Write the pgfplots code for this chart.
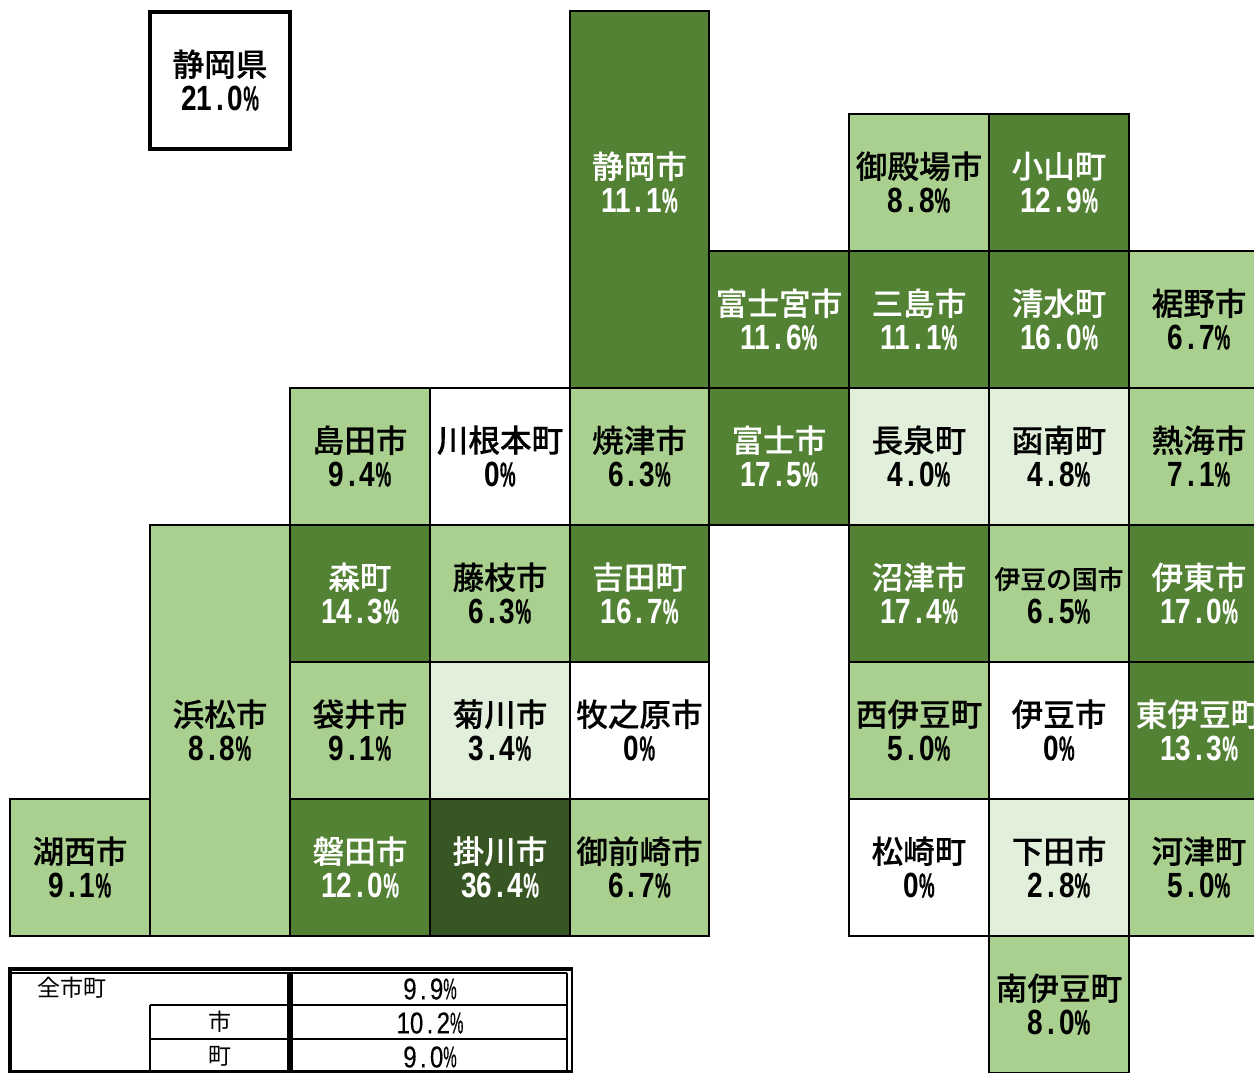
\documentclass[border=0pt]{standalone}
\usepackage{pgfplots}
\pgfplotsset{compat=1.18}
\usepackage{fontspec}
\setmainfont{Noto Sans CJK JP}
\newfontfamily\jp[FakeBold=0.2]{Noto Sans CJK JP Medium}
\newfontfamily\jpr{Noto Sans CJK JP}
\newfontfamily\num[FakeStretch=0.8]{Liberation Sans}
\newfontfamily\pctf[FakeStretch=0.5]{Liberation Sans}
\newfontfamily\numr[FakeStretch=0.8,FakeBold=0.4]{Liberation Sans}
\newfontfamily\pctr[FakeStretch=0.5,FakeBold=0.4]{Liberation Sans}
\newcommand\dt{\makebox[0.445em][c]{.}}
\newcommand\pc{{\pctsel\%}}
\newcommand\pctsel{\pctf}
\definecolor{dk}{HTML}{548235}
\definecolor{lt}{HTML}{A9D08E}
\definecolor{vl}{HTML}{E2EFDA}
\definecolor{xd}{HTML}{375623}
\newcommand\cell[5]{\addplot[fill=#5,draw=black,line width=1pt] coordinates {(#1,#2)(#3,#2)(#3,#4)(#1,#4)} -- cycle;}
\newcommand\lab[5]{%
 \node[text=#5,inner sep=0pt,font=\jp\fontsize{15.8pt}{16pt}\selectfont] at (axis cs:#1,#2-16.3) {#3};
 \node[text=#5,inner sep=0pt,font=\num\bfseries\fontsize{17.5pt}{17pt}\selectfont] at (axis cs:#1,#2+18) {#4};}
\newcommand\seg[5]{\addplot[draw=black,line width=#5] coordinates {(#1,#2)(#3,#4)};}
\begin{document}
\begin{tikzpicture}
\clip (0,0) rectangle (627pt,536pt);
\begin{axis}[at={(0,0)},anchor=south west,width=627pt,height=536pt,scale only axis,hide axis,
 xmin=0,xmax=1254,ymin=0,ymax=1072,y dir=reverse,clip=false]
% cells
\cell{570}{11}{709}{388}{dk}
\cell{849}{114}{989}{251}{lt}
\cell{989}{114}{1129}{251}{dk}
\cell{709}{251}{849}{388}{dk}
\cell{849}{251}{989}{388}{dk}
\cell{989}{251}{1129}{388}{dk}
\cell{1129}{251}{1269}{388}{lt}
\cell{290}{388}{430}{525}{lt}
\cell{430}{388}{570}{525}{white}
\cell{570}{388}{709}{525}{lt}
\cell{709}{388}{849}{525}{dk}
\cell{849}{388}{989}{525}{vl}
\cell{989}{388}{1129}{525}{vl}
\cell{1129}{388}{1269}{525}{lt}
\cell{150}{525}{290}{936}{lt}
\cell{290}{525}{430}{662}{dk}
\cell{430}{525}{570}{662}{lt}
\cell{570}{525}{709}{662}{dk}
\cell{849}{525}{989}{662}{dk}
\cell{989}{525}{1129}{662}{lt}
\cell{1129}{525}{1269}{662}{dk}
\cell{290}{662}{430}{799}{lt}
\cell{430}{662}{570}{799}{vl}
\cell{570}{662}{709}{799}{white}
\cell{849}{662}{989}{799}{lt}
\cell{989}{662}{1129}{799}{white}
\cell{1129}{662}{1269}{799}{dk}
\cell{10}{799}{150}{936}{lt}
\cell{290}{799}{430}{936}{dk}
\cell{430}{799}{570}{936}{xd}
\cell{570}{799}{709}{936}{lt}
\cell{849}{799}{989}{936}{white}
\cell{989}{799}{1129}{936}{vl}
\cell{1129}{799}{1269}{936}{lt}
\cell{989}{936}{1129}{1073}{lt}
\addplot[fill=white,draw=black,line width=2pt] coordinates {(150,12)(290,12)(290,149)(150,149)} -- cycle;
% table
\seg{8}{969}{573}{969}{1.6pt}
\seg{12}{973}{567}{973}{1.4pt}
\seg{10}{968}{10}{1072}{2.2pt}
\seg{567}{973}{567}{1072}{1.2pt}
\seg{572}{968}{572}{1072}{1.1pt}
\seg{290}{973}{290}{1072}{2.6pt}
\seg{150}{1005}{567}{1005}{1.1pt}
\seg{150}{1039}{567}{1039}{1.1pt}
\seg{150}{1005}{150}{1072}{1.1pt}
\seg{8}{1071.5}{573}{1071.5}{1.1pt}
% labels
\lab{220}{80.5}{静岡県}{21\dt 0\pc}{black}
\lab{639.5}{182.5}{静岡市}{11\dt 1\pc}{white}
\lab{919}{182.5}{御殿場市}{8\dt 8\pc}{black}
\lab{1059}{182.5}{小山町}{12\dt 9\pc}{white}
\lab{779}{319.5}{富士宮市}{11\dt 6\pc}{white}
\lab{919}{319.5}{三島市}{11\dt 1\pc}{white}
\lab{1059}{319.5}{清水町}{16\dt 0\pc}{white}
\lab{1199}{319.5}{裾野市}{6\dt 7\pc}{black}
\lab{360}{456.5}{島田市}{9\dt 4\pc}{black}
\lab{500}{456.5}{川根本町}{0\pc}{black}
\lab{639.5}{456.5}{焼津市}{6\dt 3\pc}{black}
\lab{779}{456.5}{富士市}{17\dt 5\pc}{white}
\lab{919}{456.5}{長泉町}{4\dt 0\pc}{black}
\lab{1059}{456.5}{函南町}{4\dt 8\pc}{black}
\lab{1199}{456.5}{熱海市}{7\dt 1\pc}{black}
\lab{360}{593.5}{森町}{14\dt 3\pc}{white}
\lab{500}{593.5}{藤枝市}{6\dt 3\pc}{black}
\lab{639.5}{593.5}{吉田町}{16\dt 7\pc}{white}
\lab{919}{593.5}{沼津市}{17\dt 4\pc}{white}
\node[inner sep=0pt,font=\jp\fontsize{12.9pt}{13pt}\selectfont] at (axis cs:1059,579) {伊豆の国市};
\node[inner sep=0pt,font=\num\bfseries\fontsize{17.5pt}{17pt}\selectfont] at (axis cs:1059,611.5) {6\dt 5\pc};
\lab{1199}{593.5}{伊東市}{17\dt 0\pc}{white}
\lab{220}{730.5}{浜松市}{8\dt 8\pc}{black}
\lab{360}{730.5}{袋井市}{9\dt 1\pc}{black}
\lab{500}{730.5}{菊川市}{3\dt 4\pc}{black}
\lab{639.5}{730.5}{牧之原市}{0\pc}{black}
\lab{919}{730.5}{西伊豆町}{5\dt 0\pc}{black}
\lab{1059}{730.5}{伊豆市}{0\pc}{black}
\lab{1199}{730.5}{東伊豆町}{13\dt 3\pc}{white}
\lab{80}{867.5}{湖西市}{9\dt 1\pc}{black}
\lab{360}{867.5}{磐田市}{12\dt 0\pc}{white}
\lab{500}{867.5}{掛川市}{36\dt 4\pc}{white}
\lab{639.5}{867.5}{御前崎市}{6\dt 7\pc}{black}
\lab{919}{867.5}{松崎町}{0\pc}{black}
\lab{1059}{867.5}{下田市}{2\dt 8\pc}{black}
\lab{1199}{867.5}{河津町}{5\dt 0\pc}{black}
\lab{1059}{1004.5}{南伊豆町}{8\dt 0\pc}{black}
% table text
\node[inner sep=0pt,font=\jpr\fontsize{11.5pt}{12pt}\selectfont] at (axis cs:72,988) {全市町};
\node[inner sep=0pt,font=\jpr\fontsize{11.5pt}{12pt}\selectfont] at (axis cs:220,1022) {市};
\node[inner sep=0pt,font=\jpr\fontsize{11.5pt}{12pt}\selectfont] at (axis cs:220,1056) {町};
\renewcommand\pctsel{\pctr}
\node[inner sep=0pt,font=\numr\fontsize{15pt}{15pt}\selectfont] at (axis cs:430,989) {9\dt 9\pc};
\node[inner sep=0pt,font=\numr\fontsize{15pt}{15pt}\selectfont] at (axis cs:430,1023) {10\dt 2\pc};
\node[inner sep=0pt,font=\numr\fontsize{15pt}{15pt}\selectfont] at (axis cs:430,1057) {9\dt 0\pc};
\end{axis}
\end{tikzpicture}
\end{document}
